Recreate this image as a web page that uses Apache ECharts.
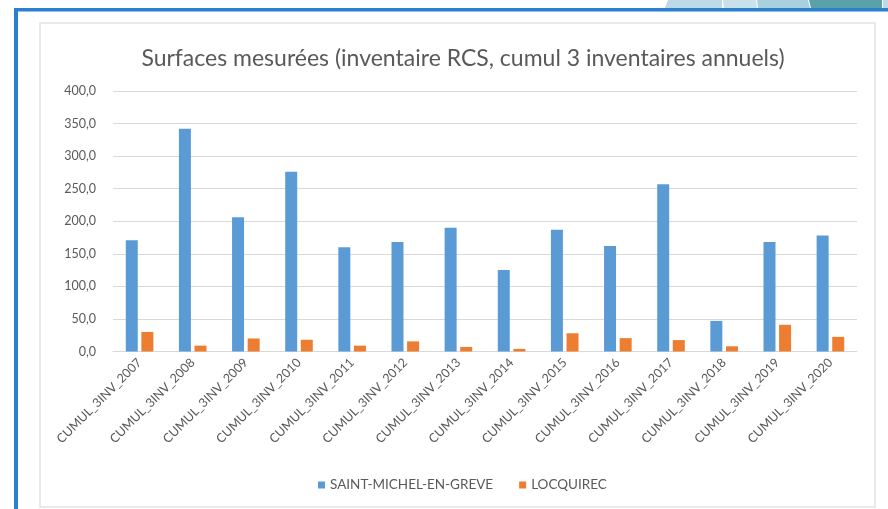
<!DOCTYPE html>
<html>
<head>
<meta charset="utf-8">
<script src="https://cdn.jsdelivr.net/npm/echarts@6/dist/echarts.min.js"></script>
<style>
html,body{margin:0;padding:0;background:#fff;}
#c{width:888px;height:509px;}
</style>
</head>
<body>
<div id="c"></div>
<script>
const categories = ['CUMUL_3INV_2007','CUMUL_3INV_2008','CUMUL_3INV_2009','CUMUL_3INV_2010','CUMUL_3INV_2011','CUMUL_3INV_2012','CUMUL_3INV_2013','CUMUL_3INV_2014','CUMUL_3INV_2015','CUMUL_3INV_2016','CUMUL_3INV_2017','CUMUL_3INV_2018','CUMUL_3INV_2019','CUMUL_3INV_2020'];
const saintMichel = [171, 342, 206, 276, 160, 168, 190, 125, 187, 162, 257, 47, 168, 178];
const locquirec = [30, 9, 20, 18, 9, 15.5, 7, 4, 28, 20.5, 17.5, 8, 41, 22.5];
const seriesNames = ['SAINT-MICHEL-EN-GREVE', 'LOCQUIREC'];
const titleText = 'Surfaces mesurées (inventaire RCS, cumul 3 inventaires annuels)';

const FONT = 'Lato';
const TXT = '#595959';
const chart = echarts.init(document.getElementById('c'), null, {renderer: 'canvas'});
chart.setOption({
  animation: false,
  backgroundColor: '#fff',
  graphic: [
    {type: 'rect', shape: {x: 40, y: 23, width: 835, height: 484}, style: {fill: '#fff', stroke: '#e3e3e3', lineWidth: 1.5}, z: -10},
    {type: 'polygon', shape: {points: [[668,0],[722,0],[722,8],[665,8]]}, style: {fill: '#bcdbe7'}, z: -5},
    {type: 'polygon', shape: {points: [[723,0],[756,0],[757,8],[724,8]]}, style: {fill: '#c8e1ea'}, z: -5},
    {type: 'polygon', shape: {points: [[757,0],[808,0],[810,8],[758,8]]}, style: {fill: '#a9d0df'}, z: -5},
    {type: 'polygon', shape: {points: [[809,0],[882,0],[882,8],[811,8]]}, style: {fill: '#5ba1a9'}, z: -5},
    {type: 'rect', shape: {x: 883, y: 0, width: 5, height: 8}, style: {fill: '#bcdbe7'}, z: -5},
    {type: 'rect', shape: {x: 14, y: 8, width: 874, height: 3.5}, style: {fill: '#2b7fcf'}, z: -4},
    {type: 'rect', shape: {x: 14, y: 8, width: 4, height: 501}, style: {fill: '#2b7fcf'}, z: -4}
  ],
  title: {
    text: titleText,
    left: 458, textAlign: 'center', top: 42,
    textStyle: {fontFamily: FONT, fontSize: 23, fontWeight: 'normal', color: TXT}
  },
  legend: {
    data: seriesNames,
    left: 313, top: 473,
    itemWidth: 7, itemHeight: 7, itemGap: 26,
    icon: 'rect',
    textStyle: {fontFamily: FONT, fontSize: 13.5, color: TXT}
  },
  grid: {left: 113, right: 31, top: 91, bottom: 157.5, containLabel: false},
  xAxis: {
    type: 'category',
    data: categories,
    axisLine: {lineStyle: {color: '#d9d9d9'}},
    axisTick: {show: false},
    axisLabel: {rotate: 45, interval: 0, margin: 9, fontFamily: FONT, fontSize: 12.5, color: TXT}
  },
  yAxis: {
    type: 'value',
    min: 0, max: 400, interval: 50,
    axisLine: {show: false},
    axisTick: {show: false},
    splitLine: {lineStyle: {color: '#d9d9d9'}},
    axisLabel: {margin: 17, fontFamily: FONT, fontSize: 12.5, color: TXT,
      formatter: v => v.toFixed(1).replace('.', ',')}
  },
  series: [
    {name: seriesNames[0], type: 'bar', data: saintMichel, barWidth: 12, barGap: '30%', itemStyle: {color: '#5b9bd5'}},
    {name: seriesNames[1], type: 'bar', data: locquirec, barWidth: 12, barGap: '30%', itemStyle: {color: '#ed7d31'}}
  ]
});
</script>
</body>
</html>
